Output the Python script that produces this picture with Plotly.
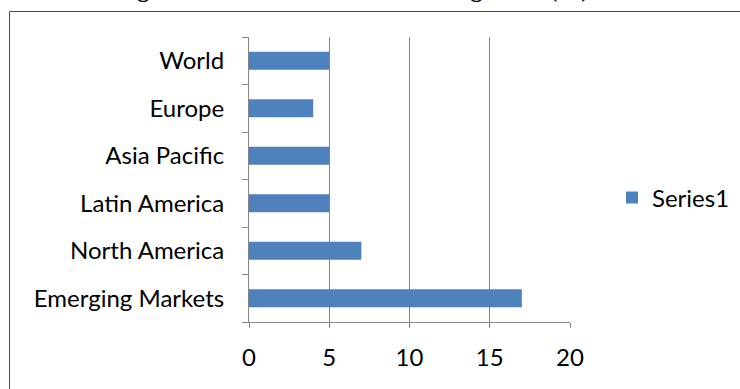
import plotly.graph_objects as go

categories = ["Emerging Markets", "North America", "Latin America", "Asia Pacific", "Europe", "World"]
values = [17, 7, 5, 5, 4, 5]
series_name = "Series1"
title_text = "Figure 3: Mobile Broadband Data growth (%)"

W, H = 740, 389
L, R, T, B = 249, 170, 37, 67
pw, ph = W - L - R, H - T - B

def px_x(px):
    return (px - L) / pw

def px_y(py):
    return (H - B - py) / ph

grey = "#868686"
fig = go.Figure()
fig.add_trace(go.Bar(
    y=categories, x=values, orientation="h", name=series_name,
    marker=dict(color="#4F81BD", line=dict(width=0)),
    showlegend=True,
))

fig.update_layout(
    width=W, height=H,
    margin=dict(l=L, r=R, t=T, b=B, autoexpand=False),
    paper_bgcolor="white", plot_bgcolor="white",
    bargap=0.62,
    font=dict(family="Lato", size=24, color="#000000"),
    xaxis=dict(range=[0, 20], dtick=5, showgrid=True, gridcolor=grey, gridwidth=1,
               showline=True, linecolor=grey, linewidth=1, ticks="outside",
               ticklen=5, tickcolor=grey, zeroline=False, fixedrange=True,
               ticklabelstandoff=9),
    yaxis=dict(type="category", categoryorder="array", categoryarray=categories,
               showline=True, linecolor=grey, linewidth=1, ticks="outside",
               ticklen=6, tickcolor=grey, tickson="boundaries", showgrid=False,
               ticklabelstandoff=19),
    legend=dict(x=px_x(612), y=px_y(198), xanchor="left", yanchor="middle",
                font=dict(family="Lato", size=24), bgcolor="rgba(0,0,0,0)",
                itemwidth=30),
    shapes=[dict(type="rect", xref="paper", yref="paper",
                 x0=px_x(9.5), x1=px_x(760), y0=px_y(11.5), y1=px_y(400),
                 line=dict(color="#4a4a4a", width=1), fillcolor="rgba(0,0,0,0)",
                 layer="below")],
    annotations=[dict(text="<b>" + title_text + "</b>", xref="paper", yref="paper",
                      x=px_x(352), y=px_y(4), xanchor="center", yanchor="bottom",
                      showarrow=False,
                      font=dict(family="Liberation Serif", size=24, color="#000000"))],
)

fig.write_html("out.html")
